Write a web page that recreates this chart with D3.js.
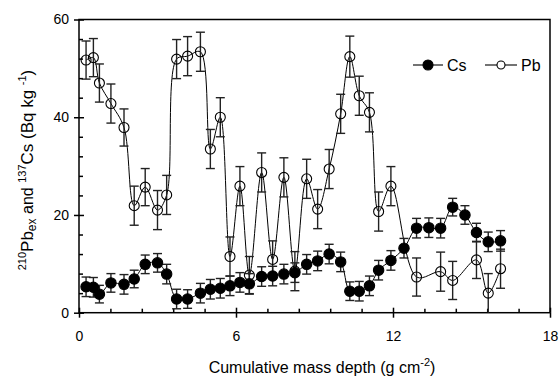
<!DOCTYPE html>
<html>
<head>
<meta charset="utf-8">
<script src="https://cdn.jsdelivr.net/npm/d3@7"></script>
<style>
    body { margin: 0; background: #fff; }
    text { font-family: "Liberation Sans", Arial, sans-serif; fill: #000; }
</style>
</head>
<body>
<svg id="chart" width="559" height="380"></svg>
<script>
// sample depths (g cm-2), shared by both series
const depth = [0.27, 0.55, 0.78, 1.22, 1.72, 2.11, 2.53, 3.0, 3.35, 3.73,
    4.15, 4.64, 5.02, 5.4, 5.77, 6.15, 6.51, 6.98, 7.4, 7.83,
    8.25, 8.7, 9.12, 9.56, 10.0, 10.35, 10.71, 11.1, 11.45, 11.92,
    12.42, 12.9, 13.37, 13.82, 14.28, 14.75, 15.19, 15.64, 16.11];

const cs = [5.3, 5.2, 3.8, 6.1, 5.8, 6.9, 9.9, 10.2, 7.9, 2.8,
    2.8, 4.0, 4.8, 5.0, 5.5, 6.2, 5.9, 7.4, 7.5, 7.9,
    8.2, 9.9, 10.6, 12.0, 10.4, 4.4, 4.4, 5.5, 8.7, 10.7,
    13.2, 17.3, 17.4, 17.3, 21.6, 20.0, 16.4, 14.5, 14.7];
const csErr = [2.0, 2.0, 1.8, 1.9, 2.0, 1.8, 1.9, 1.9, 2.0, 2.0,
    1.9, 2.0, 2.0, 2.0, 2.0, 2.0, 2.1, 2.0, 2.0, 2.0,
    2.0, 2.0, 2.0, 2.0, 2.0, 1.9, 2.0, 2.0, 2.0, 2.0,
    2.0, 2.0, 2.0, 2.0, 1.8, 1.9, 1.9, 2.0, 2.1];

// null = no Pb measurement at that depth
const pb = [51.7, 52.2, 47.0, 42.8, 37.9, 21.9, 25.7, 21.0, 24.1, 51.9,
    52.5, 53.4, 33.5, 40.0, 11.5, 25.9, 7.7, 28.7, 10.9, 27.7,
    8.5, 27.4, 21.2, 29.4, 40.7, 52.4, 44.4, 41.0, 20.7, 25.9,
    null, 7.3, null, 8.4, 6.6, null, 10.8, 4.0, 9.0];
const pbErr = [3.9, 3.9, 3.9, 4.0, 3.8, 4.0, 3.8, 4.0, 4.0, 4.0,
    4.0, 4.0, 4.0, 4.0, 4.0, 4.0, 3.8, 4.0, 3.8, 4.0,
    4.0, 4.0, 4.0, 4.0, 4.0, 4.2, 4.0, 4.0, 4.0, 4.0,
    null, 3.9, null, 4.0, 3.9, null, 3.8, 4.0, 4.0];

const xMajor = [0, 6, 12, 18];
const yMajor = [0, 20, 40, 60];

const svg = d3.select('#chart');

const x = d3.scaleLinear().domain([0, 18]).range([79, 550]);
const y = d3.scaleLinear().domain([0, 60]).range([312.7, 19.5]);

const csData = depth.map((d, i) => ({x: d, v: cs[i], e: csErr[i]}));
const pbData = depth.map((d, i) => ({x: d, v: pb[i], e: pbErr[i]}))
    .filter(d => d.v !== null);

// frame
svg.append('rect')
    .attr('x', x(0)).attr('y', y(60))
    .attr('width', x(18) - x(0)).attr('height', y(0) - y(60))
    .attr('fill', 'none').attr('stroke', '#000').attr('stroke-width', 1.5);

// axes: minor ticks inward, major ticks across
const xMinor = d3.range(0, 18.01, 1.2).filter(v => xMajor.indexOf(Math.round(v * 10) / 10) < 0);
const yMinor = d3.range(0, 60.01, 4).filter(v => yMajor.indexOf(v) < 0);

function styleAxis(g) {
    g.select('.domain').remove();
    g.selectAll('line').attr('stroke', '#000').attr('stroke-width', 1.5);
    g.selectAll('text').style('font-family', '"Liberation Sans", Arial, sans-serif')
        .style('font-size', '14px').attr('fill', '#000');
}

svg.append('g').attr('transform', `translate(0,${y(0)})`)
    .call(d3.axisBottom(x).tickValues(xMinor).tickSize(-4).tickFormat(''))
    .call(styleAxis);
svg.append('g').attr('transform', `translate(0,${y(0)})`)
    .call(d3.axisBottom(x).tickValues(xMajor).tickSize(-5).tickFormat(''))
    .call(styleAxis);
svg.append('g').attr('transform', `translate(0,${y(0)})`)
    .call(d3.axisBottom(x).tickValues(xMajor).tickSize(5).tickPadding(13).tickFormat(d3.format('d')))
    .call(styleAxis);

svg.append('g').attr('transform', `translate(${x(0)},0)`)
    .call(d3.axisLeft(y).tickValues(yMinor).tickSize(-4).tickFormat(''))
    .call(styleAxis);
svg.append('g').attr('transform', `translate(${x(0)},0)`)
    .call(d3.axisLeft(y).tickValues(yMajor).tickSize(-5).tickFormat(''))
    .call(styleAxis);
svg.append('g').attr('transform', `translate(${x(0)},0)`)
    .call(d3.axisLeft(y).tickValues(yMajor).tickSize(5).tickPadding(5).tickFormat(d3.format('d')))
    .call(styleAxis);

// series
const line = d3.line()
    .x(d => x(d.x))
    .y(d => y(d.v))
    .curve(d3.curveCatmullRom.alpha(0.5));

function drawSeries(data, filled, r) {
    const g = svg.append('g');
    g.append('path')
        .attr('d', line(data))
        .attr('fill', 'none').attr('stroke', '#000').attr('stroke-width', 1);

    const bars = g.selectAll('g.bar').data(data).enter().append('g');
    bars.append('line')
        .attr('x1', d => x(d.x)).attr('x2', d => x(d.x))
        .attr('y1', d => y(Math.max(0, d.v - d.e))).attr('y2', d => y(d.v + d.e));
    bars.append('line')
        .attr('x1', d => x(d.x) - 4.5).attr('x2', d => x(d.x) + 4.5)
        .attr('y1', d => y(d.v + d.e)).attr('y2', d => y(d.v + d.e));
    bars.filter(d => d.v - d.e > 0).append('line')
        .attr('x1', d => x(d.x) - 4.5).attr('x2', d => x(d.x) + 4.5)
        .attr('y1', d => y(d.v - d.e)).attr('y2', d => y(d.v - d.e));
    bars.selectAll('line').attr('stroke', '#222').attr('stroke-width', 1.4);

    g.selectAll('circle').data(data).enter().append('circle')
        .attr('cx', d => x(d.x)).attr('cy', d => y(d.v)).attr('r', r)
        .attr('fill', filled ? '#000' : 'none')
        .attr('stroke', '#000').attr('stroke-width', 1.1);
}

drawSeries(pbData, false, 5);
drawSeries(csData, true, 5.2);

// legend
const legend = [
    {name: 'Cs', filled: true, r: 5, x0: 413, x1: 443},
    {name: 'Pb', filled: false, r: 4, x0: 485, x1: 517}
];
const ly = 65;
legend.forEach(l => {
    svg.append('line')
        .attr('x1', l.x0).attr('x2', l.x1).attr('y1', ly).attr('y2', ly)
        .attr('stroke', '#000').attr('stroke-width', 1.1);
    svg.append('circle')
        .attr('cx', (l.x0 + l.x1) / 2).attr('cy', ly).attr('r', l.r)
        .attr('fill', l.filled ? '#000' : '#fff').attr('stroke', '#000').attr('stroke-width', 1.1);
    svg.append('text')
        .attr('x', l.x1 + 4).attr('y', ly + 5.5)
        .style('font-size', '16px')
        .text(l.name);
});

// x title
const xt = svg.append('text')
    .attr('x', 322).attr('y', 373)
    .attr('text-anchor', 'middle')
    .style('font-size', '16px');
xt.append('tspan').text('Cumulative mass depth (g cm');
xt.append('tspan').attr('dy', -7).style('font-size', '11px').text('-2');
xt.append('tspan').attr('dy', 7).text(')');

// y title
const yt = svg.append('text')
    .attr('transform', 'translate(33,170) rotate(-90)')
    .attr('text-anchor', 'middle')
    .style('font-size', '16px');
yt.append('tspan').attr('dy', -7).style('font-size', '11px').text('210');
yt.append('tspan').attr('dy', 7).style('font-size', '17px').text('Pb');
yt.append('tspan').attr('dy', 3).style('font-size', '12px').text('ex');
yt.append('tspan').attr('dy', -3).text(' and ');
yt.append('tspan').attr('dy', -7).style('font-size', '11px').text('137');
yt.append('tspan').attr('dy', 7).style('font-size', '17px').text('Cs (Bq kg ');
yt.append('tspan').attr('dy', -7).style('font-size', '11px').text('-1');
yt.append('tspan').attr('dy', 7).style('font-size', '17px').text(')');
</script>
</body>
</html>
